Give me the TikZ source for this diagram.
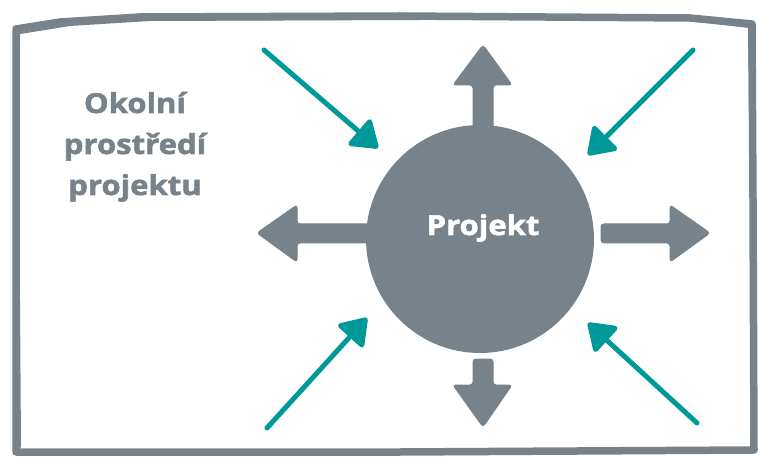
\documentclass[tikz,border=0pt]{standalone}
\usepackage{fontspec}
\setmainfont{Open Sans}[BoldFeatures={FakeBold=2,FakeStretch=1.13}]
\usetikzlibrary{arrows.meta}
\definecolor{slate}{RGB}{120,130,139}
\definecolor{tealc}{RGB}{0,153,153}
\begin{document}
\begin{tikzpicture}[x=1pt,y=-1pt,
  inarrow/.style={tealc, line width=5pt, line cap=round, -{Triangle[length=28pt,width=37pt,round]}},
  blockarrow/.style={fill=slate, draw=slate, line width=1pt, rounded corners=3pt},
  frame/.style={draw=slate, line join=round, line cap=round},
  ]
\useasboundingbox (0,0) rectangle (758,457);
% sketchy frame
\draw[frame, line width=7.5pt] (16,29) -- (60,22) -- (140,17) -- (400,16) -- (690,18) -- (752,24) -- (753,200) -- (754,450) -- (400,452) -- (16,452) -- cycle;
\draw[frame, line width=2pt] (14,34) -- (70,25) -- (150,20) -- (420,19);
\draw[frame, line width=2pt] (700,21) -- (749,27) -- (750,120);
\draw[frame, line width=2pt] (18,80) -- (19,300) -- (20,447);
% block arrows
\draw[blockarrow] (473,130) -- (473,85) -- (453,85) -- (483,45) -- (512,85) -- (493,85) -- (493,130) -- cycle;
\draw[blockarrow] (473,359) -- (473,385) -- (453,385) -- (483,427) -- (512,385) -- (493,385) -- (493,359) -- cycle;
\draw[blockarrow] (372,224) -- (297,224) -- (297,205) -- (257,233) -- (297,262) -- (297,243) -- (372,243) -- cycle;
\draw[blockarrow] (601,224) -- (670,224) -- (670,205) -- (710,233) -- (670,262) -- (670,243) -- (601,243) -- cycle;
% project circle
\node[circle, fill=slate, minimum size=228pt, inner sep=0pt] (proj) at (480,239) {};
\node[text=white, font=\bfseries\fontsize{27.5}{30}\selectfont, anchor=base] (projlabel) at (483,235) {Projekt};
% environment label
\node[text=slate, font=\bfseries\fontsize{27.5}{41}\selectfont, align=center, anchor=base] (env) at (135,195) {Okolní\\prostředí\\projektu};
% incoming influences
\coordinate (s1) at (264,50);  \coordinate (t1) at (378,148);
\coordinate (s2) at (693,50);  \coordinate (t2) at (588,155);
\coordinate (s3) at (267,428); \coordinate (t3) at (367,318);
\coordinate (s4) at (697,423); \coordinate (t4) at (588,323);
\draw[inarrow] (s1) -- (t1);
\draw[inarrow] (s2) -- (t2);
\draw[inarrow] (s3) -- (t3);
\draw[inarrow] (s4) -- (t4);
\end{tikzpicture}
\end{document}
